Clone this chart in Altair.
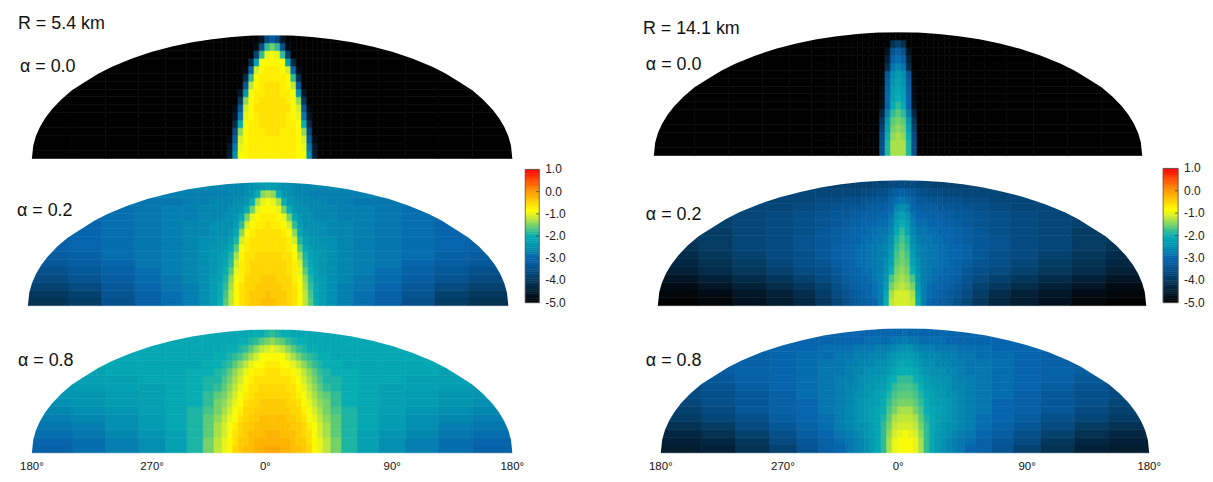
import altair as alt
import pandas as pd

# Colour scale
STOPS = [-5, -4.5, -4, -3.5, -3, -2.5, -2, -1.6, -1.3, -1, -0.85, -0.5, 0, 0.5, 1]
COLORS = ["#000000", "#021c30", "#04375c", "#05508a", "#0665ad", "#0390b0", "#06adb3", "#5ccb78",
          "#a8e04a", "#e8f51a", "#ffff00", "#ffd700", "#ff9a00", "#ff5000", "#ff0000"]
# |longitude| cell edges; first cell spans the central meridian
EDGES = [2, 6, 10, 14, 18, 22, 26, 30, 34, 38, 44, 52, 64, 80, 100, 125, 150, 180]
N_ROWS = 16
# Dome outline (|longitude|, fraction of dome height); the last pair sits just past the rim
DOME_LON = [0, 15, 30, 45, 60, 75, 90, 105, 120, 130, 140, 150, 158, 165, 170, 174, 177, 179, 180, 184]
DOME_TOP = [1, .997, .986, .968, .943, .908, .866, .812, .745, .69, .622, .553, .479, .40, .329, .256, .182, .105, 0, 0]

# log flux in tenths; rows run base to top, columns centre outward; a short row holds its last value outward
L0 = [
 [-7,-7,-7,-7,-7,-8,-9,-25,-45,-50],
 [-7,-7,-7,-7,-7,-8,-10,-28,-46,-50],
 [-7,-7,-7,-7,-7,-8,-11,-32,-48,-50],
 [-6,-6,-7,-7,-7,-8,-14,-36,-50],
 [-6,-6,-6,-7,-7,-9,-20,-42,-50],
 [-6,-6,-6,-7,-8,-10,-28,-46,-50],
 [-6,-6,-6,-6,-8,-11,-33,-48,-50],
 [-6,-6,-6,-7,-8,-14,-40,-50],
 [-6,-6,-7,-7,-9,-24,-46,-50],
 [-6,-6,-7,-8,-12,-33,-50],
 [-7,-7,-7,-8,-18,-42,-50],
 [-7,-7,-8,-11,-30,-48,-50],
 [-8,-8,-9,-22,-42,-50],
 [-9,-10,-18,-38,-50],
 [-15,-18,-35,-48,-50],
 [-32,-36,-46,-50],
]
L1 = [
 [-3,-3,-4,-4,-5,-6,-8,-12,-16,-20,-23,-25,-27,-29,-31,-35,-39,-41],
 [-3,-4,-4,-4,-5,-6,-8,-12,-17,-21,-23,-25,-27,-29,-31,-34,-38,-40],
 [-4,-4,-4,-5,-5,-6,-8,-13,-18,-21,-23,-25,-27,-28,-30,-33,-36,-38],
 [-4,-4,-5,-5,-5,-7,-9,-14,-19,-22,-23,-25,-26,-28,-29,-32,-34,-36],
 [-5,-5,-5,-5,-6,-7,-10,-16,-20,-22,-24,-25,-26,-27,-29,-31,-33,-35],
 [-5,-5,-5,-5,-6,-7,-11,-18,-21,-23,-24,-25,-26,-27,-28,-30,-32,-33],
 [-5,-5,-5,-6,-6,-8,-13,-19,-22,-23,-24,-25,-26,-27,-28,-29,-31,-32],
 [-6,-6,-6,-6,-7,-9,-16,-21,-23,-24,-24,-25,-26,-27,-28,-29,-30,-31],
 [-6,-6,-6,-6,-7,-11,-19,-22,-24,-24,-25,-25,-26,-27,-28,-29,-30,-31],
 [-6,-6,-6,-7,-8,-14,-21,-24,-25,-25,-25,-26,-26,-27,-28,-29,-30,-30],
 [-6,-7,-7,-8,-11,-18,-23,-25,-25,-25,-25,-26,-26,-27,-28,-29,-30],
 [-7,-7,-8,-10,-15,-21,-24,-25,-25,-26,-26,-26,-27,-27,-28,-29,-30],
 [-8,-8,-10,-15,-20,-24,-25,-25,-26,-26,-26,-26,-27,-27,-28,-29,-30],
 [-9,-10,-13,-20,-24,-25,-25,-26,-26,-26,-26,-27,-27,-28],
 [-13,-14,-20,-24,-25,-26,-26,-26,-27],
 [-22,-23,-24,-25,-25,-26],
]
L2 = [
 [-1,-1,-2,-2,-3,-3,-4,-5,-8,-10,-12,-15,-19,-22,-25,-27,-29,-31],
 [-2,-2,-2,-2,-3,-4,-4,-6,-8,-10,-12,-15,-19,-22,-25,-27,-29,-30],
 [-2,-2,-3,-3,-3,-4,-5,-6,-9,-11,-13,-16,-19,-22,-24,-26,-28,-29],
 [-3,-3,-3,-3,-4,-4,-5,-7,-9,-11,-13,-16,-19,-21,-23,-25,-27,-28],
 [-3,-3,-3,-4,-4,-5,-6,-9,-10,-12,-14,-16,-19,-21,-23,-25,-26,-27],
 [-4,-4,-4,-4,-5,-5,-7,-9,-11,-13,-15,-17,-19,-21,-22,-24,-25,-26],
 [-4,-4,-4,-5,-5,-6,-8,-10,-12,-14,-15,-18,-20,-21,-22,-23,-24,-25],
 [-5,-5,-5,-5,-6,-7,-9,-11,-13,-15,-16,-18,-20,-21,-22,-23,-24,-24],
 [-5,-5,-5,-6,-6,-8,-10,-12,-14,-16,-18,-19,-20,-21,-22,-22,-23,-24],
 [-6,-6,-6,-6,-7,-9,-11,-13,-15,-17,-19,-19,-20,-21,-21,-22,-22,-23],
 [-6,-6,-7,-7,-8,-10,-12,-14,-16,-18,-19,-20,-20,-21,-21,-21,-22],
 [-7,-7,-8,-9,-10,-12,-14,-16,-18,-19,-20,-20,-21,-21,-21,-21,-21,-22],
 [-8,-8,-9,-11,-13,-15,-17,-18,-19,-20,-20,-21],
 [-10,-11,-12,-14,-16,-18,-19,-20,-20,-21],
 [-14,-15,-16,-18,-19,-20,-20,-21],
 [-18,-19,-20,-20,-21],
]
R0 = [
 [-13,-13,-19,-35,-50],
 [-13,-13,-19,-35,-50],
 [-13,-14,-20,-36,-50],
 [-14,-15,-22,-38,-50],
 [-15,-16,-24,-40,-50],
 [-16,-18,-27,-43,-50],
 [-18,-20,-30,-47,-50],
 [-20,-22,-30,-48,-50],
 [-21,-23,-31,-48,-50],
 [-22,-24,-32,-49,-50],
 [-23,-25,-33,-49,-50],
 [-26,-28,-42,-50],
 [-29,-31,-44,-50],
 [-32,-34,-47,-50],
 [-38,-41,-50],
 [-50],
]
R1 = [
 [-11,-11,-12,-20,-27,-30,-31,-32,-32,-33,-35,-37,-40,-43,-45,-47,-49,-50],
 [-11,-11,-13,-21,-27,-29,-30,-31,-32,-33,-34,-36,-39,-42,-44,-46,-48,-49],
 [-12,-13,-15,-23,-27,-29,-30,-30,-31,-32,-33,-35,-38,-40,-42,-44,-46,-48],
 [-13,-14,-17,-24,-27,-28,-29,-30,-30,-31,-32,-34,-36,-38,-40,-42,-44,-46],
 [-14,-15,-20,-25,-27,-28,-29,-29,-30,-30,-31,-33,-35,-36,-38,-40,-42,-44],
 [-15,-16,-22,-25,-27,-28,-28,-29,-29,-30,-31,-32,-34,-35,-37,-39,-41,-43],
 [-15,-17,-23,-26,-27,-28,-28,-29,-29,-30,-30,-31,-33,-35,-36,-38,-40,-42],
 [-16,-18,-24,-26,-27,-28,-28,-29,-29,-30,-30,-31,-33,-34,-36,-37,-39,-41],
 [-17,-19,-25,-27,-28,-28,-29,-29,-30,-30,-31,-32,-33,-34,-36,-37,-39,-40],
 [-18,-21,-26,-28,-28,-29,-29,-30,-30,-30,-31,-32,-33,-35,-36,-37,-39,-40],
 [-20,-22,-27,-29,-29,-30,-30,-30,-31,-31,-32,-33,-34,-35,-36,-37,-38,-39],
 [-22,-24,-28,-30,-30,-31,-31,-31,-32,-32,-33,-33,-34,-35,-36,-37,-38,-39],
 [-25,-26,-30,-31,-32,-32,-32,-33,-33,-33,-34,-34,-35,-36,-37,-37,-38,-39],
 [-28,-29,-31,-33,-33,-34,-34,-34,-35,-35,-35,-36,-36,-37],
 [-31,-32,-33,-35,-35,-36,-36,-36,-37],
 [-36,-36,-36,-37,-37,-37,-38],
]
R2 = [
 [-8,-9,-10,-13,-18,-21,-23,-25,-26,-27,-28,-30,-31,-34,-38,-41,-44,-45],
 [-8,-9,-10,-13,-18,-21,-23,-25,-26,-27,-28,-29,-31,-33,-36,-40,-43,-44],
 [-9,-10,-11,-14,-18,-21,-23,-24,-25,-26,-27,-28,-30,-32,-35,-38,-41,-43],
 [-11,-11,-12,-15,-18,-21,-22,-24,-25,-25,-26,-27,-29,-31,-33,-36,-39,-41],
 [-12,-12,-13,-16,-19,-21,-22,-23,-24,-25,-26,-27,-29,-30,-32,-35,-37,-39],
 [-13,-13,-15,-17,-20,-21,-22,-23,-24,-25,-26,-27,-28,-30,-31,-33,-36,-38],
 [-15,-15,-16,-18,-20,-22,-23,-23,-24,-25,-26,-27,-28,-30,-31,-33,-35,-37],
 [-16,-16,-17,-19,-21,-22,-23,-24,-25,-25,-26,-27,-28,-29,-31,-33,-35,-36],
 [-17,-17,-18,-20,-22,-23,-24,-24,-25,-26,-26,-27,-28,-29,-30,-32,-34,-36],
 [-18,-18,-20,-21,-23,-24,-24,-25,-25,-26,-27,-27,-28,-29,-30,-31,-33,-35],
 [-20,-20,-21,-23,-24,-25,-25,-25,-26,-26,-27,-28,-28,-29,-30,-31,-32,-34],
 [-21,-21,-23,-24,-25,-25,-26,-26,-26,-27,-27,-28,-28,-29,-30,-31,-32,-33],
 [-23,-23,-24,-25,-26,-26,-26,-27,-27,-27,-28,-28,-29,-29,-30,-31,-32],
 [-25,-25,-26,-27,-27,-27,-28,-28,-28,-28,-29,-29,-29,-30],
 [-27,-28,-28,-29,-29,-29,-29,-29,-30],
 [-29,-30,-30,-30,-30,-30],
]

# Layout in page pixels: column and row bands of the grid
COLS = [(8, 518), (518, 640), (640, 1160), (1160, 1200)]
ROWS = [(11, 161), (161, 309), (309, 474)]
STRETCH = 1.0025  # small horizontal calibration of the page layout
# grid, column, row, left, right, dome top, base, alpha label (x, y), optional title
PANELS = [
    (L0, 0, 0, 32, 514, 34, 158, "α = 0.0", (20, 66), ("R = 5.4 km", 18, 23)),
    (R0, 2, 0, 656, 1146, 31, 155, "α = 0.0", (648, 64), ("R = 14.1 km", 645, 28)),
    (L1, 0, 1, 28, 510, 182, 306, "α = 0.2", (17, 211), None),
    (R1, 2, 1, 660, 1150, 180, 306, "α = 0.2", (648, 215), None),
    (L2, 0, 2, 32, 514, 330, 454, "α = 0.8", (18, 362), None),
    (R2, 2, 2, 663, 1153, 329, 454, "α = 0.8", (648, 362), None),
]
FONT = "Liberation Sans"
TICK_LON = [-180, -90, -5, 90, 180]
TICK_LABELS = ["180°", "270°", "0°", "90°", "180°"]
TICK_Y = 468
CB_VALUES = [1, 0, -1, -2, -3, -4, -5]
CB_LABELS = ["1.0", "0.0", "-1.0", "-2.0", "-3.0", "-4.0", "-5.0"]
CB_CELLS = [v / 10 for v in range(-50, 10)]

color_scale = alt.Scale(domain=STOPS, range=COLORS, clamp=True, interpolate="rgb")


def fix(px):
    return 8 + (px - 8) * STRETCH


def cells(grid):
    out = []
    for r, row in enumerate(grid):
        full = row + [row[-1]] * (len(EDGES) - len(row))
        for k, v in enumerate(full):
            inner = EDGES[k - 1] if k else -EDGES[0]
            rec = dict(y0=r / N_ROWS, y1=(r + 1) / N_ROWS, v=v / 10)
            out.append(dict(rec, x0=inner, x1=EDGES[k]))
            if k:
                out.append(dict(rec, x0=-EDGES[k], x1=-inner))
    return pd.DataFrame(out)


def placeholder(col, row):
    return alt.Chart(pd.DataFrame({"a": [0]})).mark_point(opacity=0).encode(
        x=alt.value(0), y=alt.value(0)
    ).properties(width=COLS[col][1] - COLS[col][0], height=ROWS[row][1] - ROWS[row][0])


def dome(p):
    grid, c, r, left, right, top, base, label, lab_xy, title = p
    cx, rx = COLS[c], ROWS[r]
    left, right = fix(left), fix(right)
    lon = lambda px: -180 + 360 * (px - left) / (right - left)
    frac = lambda py: (base - py) / (base - top)
    xs = alt.Scale(domain=[lon(cx[0]), lon(cx[1])], nice=False, zero=False)
    ys = alt.Scale(domain=[frac(rx[1]), frac(rx[0])], nice=False, zero=False)
    rect = alt.Chart(cells(grid)).mark_rect(strokeWidth=0.6).encode(
        x=alt.X("x0:Q", scale=xs, axis=None),
        x2="x1:Q",
        y=alt.Y("y0:Q", scale=ys, axis=None),
        y2="y1:Q",
        color=alt.Color("v:Q", scale=color_scale, legend=None),
        stroke=alt.Stroke("v:Q", scale=color_scale, legend=None),
    )
    lons = [-l for l in DOME_LON[:0:-1]] + DOME_LON
    tops = DOME_TOP[:0:-1] + DOME_TOP
    mask = alt.Chart(pd.DataFrame({"lon": lons, "top": tops, "ceil": [1.02] * len(lons)})).mark_area(
        color="white", interpolate="linear"
    ).encode(x=alt.X("lon:Q", scale=xs, axis=None), y=alt.Y("top:Q", scale=ys, axis=None), y2="ceil:Q")
    notes = [(label, lab_xy[0], lab_xy[1])]
    if title:
        notes.append(title)
    layers = [rect, mask]
    for t, px, py in notes:
        layers.append(alt.Chart(pd.DataFrame({"t": [t]})).mark_text(
            align="left", baseline="middle", font=FONT, fontSize=18, color="#111111"
        ).encode(text="t:N", x=alt.value(fix(px) - cx[0]), y=alt.value(py - rx[0])))
    if r == 2:
        layers.append(alt.Chart(pd.DataFrame({"lon": TICK_LON, "t": TICK_LABELS})).mark_text(
            align="center", baseline="middle", font=FONT, fontSize=11.5, color="#111111"
        ).encode(text="t:N", x=alt.X("lon:Q", scale=xs, axis=None), y=alt.value(TICK_Y - rx[0])))
    return alt.layer(*layers).properties(width=cx[1] - cx[0], height=rx[1] - rx[0])


def colorbar(col, row, a, b, top, bottom, label_x):
    cx, rx = COLS[col], ROWS[row]
    a, b = fix(a), fix(b)
    xv = lambda px: (px - a) / (b - a)
    yv = lambda py: -5 + 6 * (bottom - py) / (bottom - top)
    xs = alt.Scale(domain=[xv(cx[0]), xv(cx[1])], nice=False, zero=False)
    ys = alt.Scale(domain=[yv(rx[1]), yv(rx[0])], nice=False, zero=False)
    df = pd.DataFrame({"v": CB_CELLS, "v2": [v + 0.1 for v in CB_CELLS], "m": [v + 0.05 for v in CB_CELLS],
                       "a": [0] * len(CB_CELLS), "b": [1] * len(CB_CELLS)})
    bar = alt.Chart(df).mark_rect(strokeWidth=0.5).encode(
        x=alt.X("a:Q", scale=xs, axis=None), x2="b:Q",
        y=alt.Y("v:Q", scale=ys, axis=None), y2="v2:Q",
        color=alt.Color("m:Q", scale=color_scale, legend=None),
        stroke=alt.Stroke("m:Q", scale=color_scale, legend=None),
    )
    frame = alt.Chart(pd.DataFrame({"a": [0], "b": [1], "v": [-5], "v2": [1]})).mark_rect(
        fill=None, stroke="#555555", strokeWidth=0.8
    ).encode(x=alt.X("a:Q", scale=xs, axis=None), x2="b:Q", y=alt.Y("v:Q", scale=ys, axis=None), y2="v2:Q")
    tick_df = pd.DataFrame({"v": CB_VALUES[1:-1], "a": [0.78] * 5, "b": [1.0] * 5})
    ticks = alt.Chart(tick_df).mark_rule(color="#444444", strokeWidth=0.8).encode(
        x=alt.X("a:Q", scale=xs, axis=None), x2="b:Q", y=alt.Y("v:Q", scale=ys, axis=None)
    )
    labels = alt.Chart(pd.DataFrame({"v": CB_VALUES, "t": CB_LABELS})).mark_text(
        align="left", baseline="middle", font=FONT, fontSize=12, color="#222222"
    ).encode(text="t:N", x=alt.value(fix(label_x) - cx[0]), y=alt.Y("v:Q", scale=ys, axis=None))
    return alt.layer(bar, frame, ticks, labels).properties(
        width=cx[1] - cx[0], height=rx[1] - rx[0]
    )


charts = [
    dome(PANELS[0]), placeholder(1, 0), dome(PANELS[1]), placeholder(3, 0),
    dome(PANELS[2]), colorbar(1, 1, 527, 541, 169, 303, 547), dome(PANELS[3]),
    colorbar(3, 1, 1167, 1182, 168, 303, 1188),
    dome(PANELS[4]), placeholder(1, 2), dome(PANELS[5]), placeholder(3, 2),
]

chart = alt.concat(*charts, columns=4, spacing=0, bounds="flush", align="each").properties(
    padding=0
).configure_view(stroke=None)

chart.save("out.html", embed_options={"renderer": "svg", "actions": False})
